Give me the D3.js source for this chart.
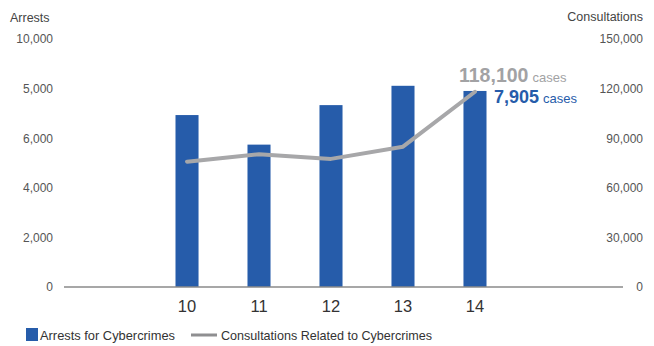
<!DOCTYPE html>
<html><head><meta charset="utf-8">
<script src="https://cdn.jsdelivr.net/npm/d3@7/dist/d3.min.js"></script>
<style>body{margin:0;background:#fff}svg{display:block}text{font-family:"Liberation Sans",Arial,sans-serif}</style>
</head><body><svg id="c" width="654" height="346"></svg>
<script>
const categories = ["10","11","12","13","14"];
const arrests = [6933, 5741, 7334, 8113, 7905];
const consultations = [75810, 80273, 77489, 84863, 118100];
const leftTicks = [0, 2000, 4000, 6000, 8000, 10000];
const leftTickLabels = ["0","2,000","4,000","6,000","5,000","10,000"];
const rightTicks = [0, 30000, 60000, 90000, 120000, 150000];
const seriesNames = ["Arrests for Cybercrimes", "Consultations Related to Cybercrimes"];
const annoLine = {value: "118,100", unit: "cases"};
const annoBar = {value: "7,905", unit: "cases"};

const svg = d3.select("#c");
const BLUE = "#265CAA", GRAY = "#A7A7A9";
const x = d3.scaleBand().domain(categories).range([139.5, 522.5]).paddingInner(0.68).paddingOuter(0.5);
const yL = d3.scaleLinear().domain([0, 10000]).range([287, 39]);
const yR = d3.scaleLinear().domain([0, 150000]).range([287, 39]);

// axis titles
svg.append("text").attr("x", 10).attr("y", 22).attr("font-size", 12.5).attr("fill", "#444").text("Arrests");
svg.append("text").attr("x", 643).attr("y", 21).attr("text-anchor", "end").attr("font-size", 12.5).attr("fill", "#444").text("Consultations");

// left axis
const lAx = svg.append("g").attr("transform", "translate(53,0)")
  .call(d3.axisLeft(yL).tickValues(leftTicks).tickSize(0).tickPadding(0).tickFormat((d,i) => leftTickLabels[i]));
lAx.select(".domain").remove();
lAx.selectAll("text").attr("font-size", 12).attr("fill", "#555").attr("font-family", "Liberation Sans, Arial, sans-serif");

// right axis
const rAx = svg.append("g").attr("transform", "translate(643,0)")
  .call(d3.axisRight(yR).tickValues(rightTicks).tickSize(0).tickPadding(0).tickFormat(d3.format(",")));
rAx.select(".domain").remove();
rAx.selectAll("text").attr("text-anchor", "end").attr("font-size", 12).attr("fill", "#555").attr("font-family", "Liberation Sans, Arial, sans-serif");

// bars
svg.selectAll("rect.bar").data(arrests).join("rect").attr("class", "bar")
  .attr("x", (d,i) => x(categories[i])).attr("width", x.bandwidth())
  .attr("y", d => yL(d)).attr("height", d => yL(0) - yL(d)).attr("fill", BLUE);

// baseline
svg.append("line").attr("x1", 64).attr("x2", 623).attr("y1", yL(0)).attr("y2", yL(0)).attr("stroke", "#8a8a8a").attr("stroke-width", 1.3);

// x axis labels
const xAx = svg.append("g").attr("transform", `translate(0,${yL(0)})`)
  .call(d3.axisBottom(x).tickSize(0).tickPadding(0));
xAx.select(".domain").remove();
xAx.selectAll("text").attr("dy", 0).attr("y", 25).attr("font-size", 16.5).attr("fill", "#333").attr("font-family", "Liberation Sans, Arial, sans-serif");

// line
const line = d3.line().x((d,i) => x(categories[i]) + x.bandwidth()/2).y(d => yR(d));
svg.append("path").datum(consultations).attr("d", line).attr("fill", "none")
  .attr("stroke", GRAY).attr("stroke-width", 4).attr("stroke-linejoin", "round").attr("stroke-linecap", "round");

// annotations
const t1 = svg.append("text").attr("x", 459).attr("y", 82).attr("fill", "#A2A2A4");
t1.append("tspan").attr("font-size", 19.5).attr("font-weight", "bold").text(annoLine.value);
t1.append("tspan").attr("dx", 4).attr("font-size", 13).text(annoLine.unit);
const t2 = svg.append("text").attr("x", 494).attr("y", 103).attr("fill", BLUE);
t2.append("tspan").attr("font-size", 18).attr("font-weight", "bold").text(annoBar.value);
t2.append("tspan").attr("dx", 4).attr("font-size", 13).text(annoBar.unit);

// legend
svg.append("rect").attr("x", 26).attr("y", 328).attr("width", 12).attr("height", 13).attr("fill", BLUE);
svg.append("text").attr("x", 40).attr("y", 340).attr("font-size", 13).attr("fill", "#333").attr("textLength", 135).attr("lengthAdjust", "spacingAndGlyphs").text(seriesNames[0]);
svg.append("line").attr("x1", 191).attr("x2", 217).attr("y1", 335).attr("y2", 335).attr("stroke", "#8f8f91").attr("stroke-width", 3);
svg.append("text").attr("x", 221).attr("y", 340).attr("font-size", 13).attr("fill", "#333").attr("textLength", 211).attr("lengthAdjust", "spacingAndGlyphs").text(seriesNames[1]);
</script></body></html>
